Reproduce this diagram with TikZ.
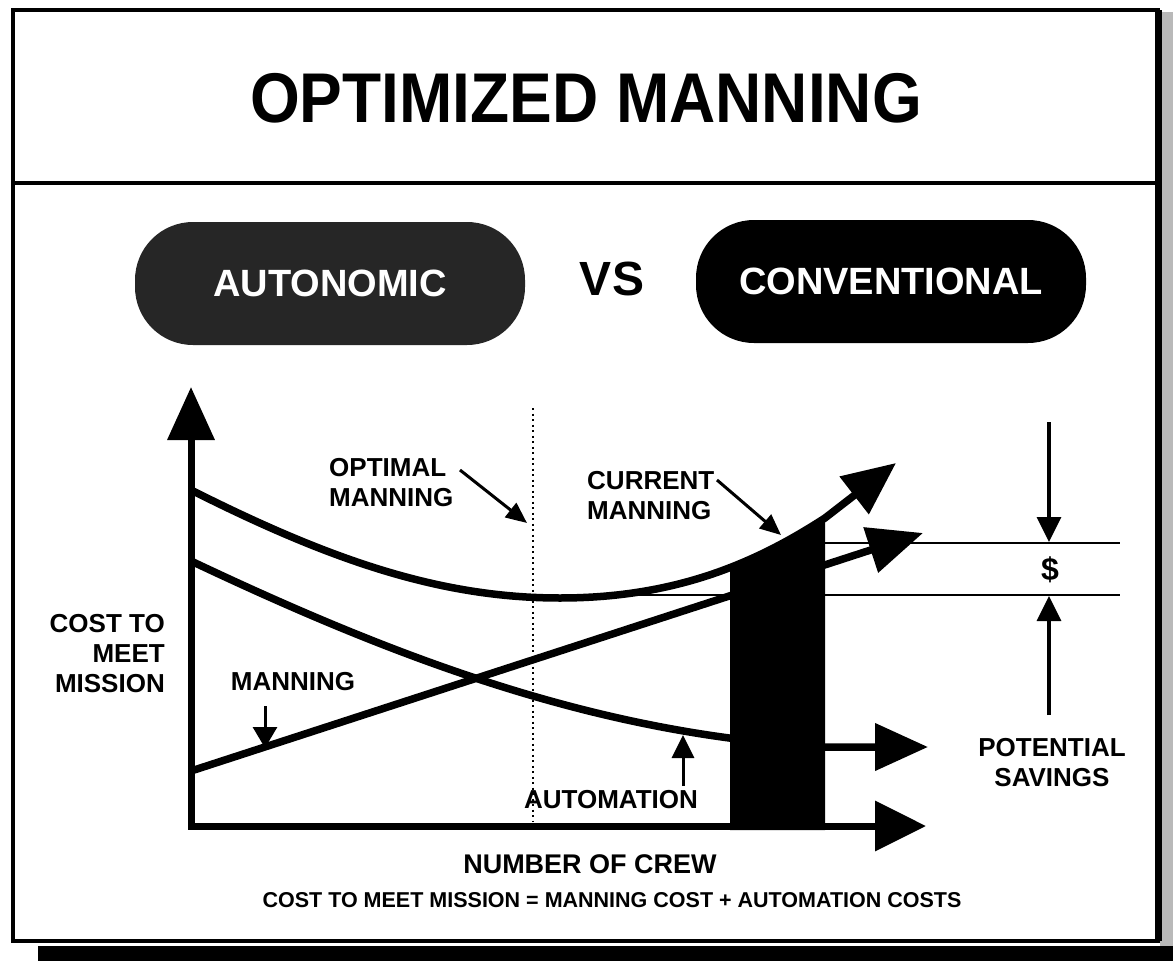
\documentclass[tikz,border=0pt]{standalone}
\usepackage{fontspec}
\setmainfont{Liberation Sans}
\usetikzlibrary{arrows.meta}
\begin{document}
\begin{tikzpicture}[x=1pt,y=-1pt,
  bighead/.style={-{Triangle[length=53pt,width=46pt]}},
  smallhead/.style={-{Triangle[length=21pt,width=18pt]}},
  curve/.style={line width=7.5pt},
  lbl/.style={font=\fontsize{26}{30}\selectfont\bfseries, inner sep=0pt},
  pill/.style={rounded corners=58pt, minimum width=390pt, minimum height=123pt, text=white, font=\fontsize{38}{40}\selectfont\bfseries, inner sep=0pt},
]
\useasboundingbox (0,0) rectangle (1173,961);
\fill[white] (0,0) rectangle (1173,961);
% shadows
\fill[gray!55] (1160,12) rectangle (1173,961);
\fill[black] (38,946) rectangle (1173,961);
% frame
\draw[line width=4pt] (13,10) rectangle (1158,941);
\draw[line width=7pt] (1158,10) -- (1158,941);
\draw[line width=4.5pt] (13,183) -- (1158,183);
% title
\node[font=\fontsize{64}{70}\selectfont\bfseries, inner sep=0pt] (title) at (586,98) {\scalebox{1}[1.1]{OPTIMIZED MANNING}};
% pills
\node[pill, fill=black!85] (auto) at (330,283.5) {AUTONOMIC};
\node[pill, fill=black] (conv) at (891,281.5) {CONVENTIONAL};
\node[font=\fontsize{48}{50}\selectfont\bfseries, inner sep=0pt] (vs) at (612,279) {VS};
% coordinates
\coordinate (ytip) at (191,387);
\coordinate (O) at (191,826);
\coordinate (xtip) at (926,826);
\coordinate (t0) at (191,490);
\coordinate (tmin) at (560,598);
\coordinate (tbar) at (825,518);
\coordinate (ttip) at (896,463);
\coordinate (m0) at (191,771);
\coordinate (mtip) at (923,533);
\coordinate (a0) at (191,561);
\coordinate (abar) at (825,747);
\coordinate (atip) at (928,747);
% dotted optimal line
\draw[line width=2pt, dash pattern=on 2pt off 3.5pt] (533,408) -- (533,822);
% thin level lines
\draw[line width=2pt] (600,595) -- (1120,595);
\draw[line width=2pt] (825,543) -- (1120,543);
% curves
\draw[curve, bighead] (t0) .. controls (330,560) and (440,598) .. (tmin) .. controls (680,598) and (760,560) .. (tbar) -- (ttip);
\draw[curve, -{Triangle[length=55pt,width=46pt]}] (m0) -- (mtip);
\draw[curve, bighead] (a0) .. controls (400,660) and (600,735) .. (abar) -- (atip);
% black bar
\begin{scope}
\clip (730,380) rectangle (825,830);
\fill (t0) .. controls (330,560) and (440,598) .. (tmin) .. controls (680,598) and (760,560) .. (tbar) -- (825,830) -- (191,830) -- cycle;
\end{scope}
% axes
\draw[line width=7pt, line join=miter, {Triangle[length=53pt,width=46pt]}-{Triangle[length=51pt,width=49pt]}] (ytip) -- (O) -- (xtip);
% labels
\node[lbl, anchor=east, align=right] (cost) at (165,654) {COST TO\\MEET\\MISSION};
\node[lbl] (manlbl) at (293,682) {MANNING};
\coordinate (ma1) at (265,706);
\coordinate (ma2) at (265,748);
\draw[line width=3pt, -{Triangle[length=21pt,width=24pt]}] (ma1) -- (ma2);
\node[lbl, anchor=west, align=left] (opt) at (329,483) {OPTIMAL\\MANNING};
\coordinate (oa1) at (460,470);
\coordinate (oa2) at (527,523);
\draw[line width=3pt, smallhead] (oa1) -- (oa2);
\node[lbl, anchor=west, align=left] (cur) at (587,496) {CURRENT\\MANNING};
\coordinate (ca1) at (717,480);
\coordinate (ca2) at (781,535);
\draw[line width=3pt, smallhead] (ca1) -- (ca2);
\node[lbl] (autolbl) at (611,800) {AUTOMATION};
\coordinate (aa1) at (683,786);
\coordinate (aa2) at (683,735);
\draw[line width=3pt, -{Triangle[length=23pt,width=22pt]}] (aa1) -- (aa2);
\node[lbl, align=center] (pot) at (1052,763) {POTENTIAL\\SAVINGS};
% dollar
\node[font=\fontsize{32}{34}\selectfont\bfseries, inner sep=0pt] (dollar) at (1050,570) {\$};
\coordinate (dtop) at (1049,422);
\coordinate (dhi) at (1049,542);
\coordinate (dbot) at (1049,715);
\coordinate (dlo) at (1049,596);
\draw[line width=3.5pt, -{Triangle[length=25pt,width=24pt]}] (dtop) -- (dhi);
\draw[line width=3.5pt, -{Triangle[length=25pt,width=24pt]}] (dbot) -- (dlo);
% axis titles
\node[font=\fontsize{27}{30}\selectfont\bfseries, inner sep=0pt] (xlbl) at (590,864) {NUMBER OF CREW};
\node[font=\fontsize{21.5}{24}\selectfont\bfseries, inner sep=0pt] (eq) at (612,900) {COST TO MEET MISSION = MANNING COST + AUTOMATION COSTS};
\end{tikzpicture}
\end{document}
